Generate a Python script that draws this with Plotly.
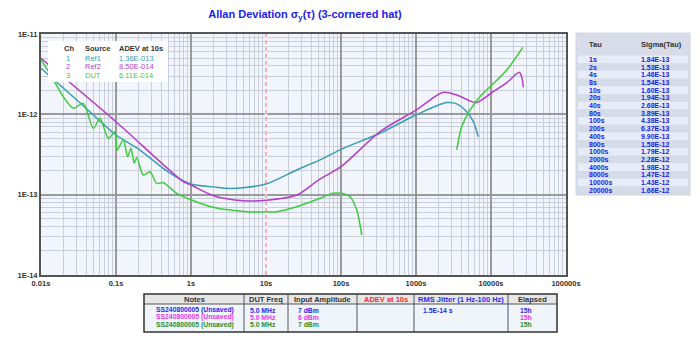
import plotly.graph_objects as go

# ---------------- data ----------------
REF1_TAU = [0.01, 0.0366, 0.1, 0.2, 0.5, 1, 2, 3, 5, 10, 25.7, 50, 100, 331, 1000, 2570, 3490, 4740, 5810, 6770]
REF1_SIG = [3.74e-12, 1.28e-12, 5.53e-13, 3.70e-13, 1.91e-13, 1.36e-13, 1.25e-13, 1.20e-13, 1.22e-13, 1.36e-13,
            2.03e-13, 2.65e-13, 3.67e-13, 5.81e-13, 9.82e-13, 1.40e-12, 1.35e-12, 1.08e-12, 8.1e-13, 5.27e-13]

REF2_TAU = [0.01, 0.1, 0.8, 1, 2, 5, 10, 25.7, 50, 100, 331, 1000, 2310, 3490, 5530, 6450, 10000, 16200, 23800, 25600, 27000]
REF2_SIG = [4.98e-12, 8.09e-13, 1.44e-13, 1.32e-13, 9.7e-14, 8.4e-14, 8.5e-14, 9.9e-14, 1.52e-13, 2.23e-13,
            6.08e-13, 1.13e-12, 1.88e-12, 1.74e-12, 1.44e-12, 1.40e-12, 1.83e-12, 2.48e-12, 3.33e-12, 2.94e-12, 2.17e-12]

DUT_TAU = [0.01, 0.0139, 0.0198, 0.0270, 0.0366, 0.0498, 0.0612, 0.0789, 0.0970, 0.104, 0.125, 0.143, 0.158,
           0.175, 0.189, 0.231, 0.284, 0.349, 0.427, 0.645, 1.02, 1.97, 5.53, 10, 13.9, 25.7, 52.5, 78.9, 102,
           132, 162, 189, None, 3490, 4070, 5250, 7130, 10300, 16200, 26500]
DUT_SIG = [4.8e-12, 2.94e-12, 1.66e-12, 1.19e-12, 1.37e-12, 6.70e-13, 8.92e-13, 5.03e-13, 6.08e-13, 3.60e-13,
           4.79e-13, 2.97e-13, 3.78e-13, 2.46e-13, 2.9e-13, 1.76e-13, 1.93e-13, 1.38e-13, 1.41e-13, 1.04e-13,
           8.58e-14, 6.97e-14, 6.14e-14, 6.11e-14, 6.14e-14, 7.08e-14, 9.01e-14, 1.04e-13, 1.04e-13, 9.43e-14,
           6.44e-14, 3.15e-14, None, 3.60e-13, 7.02e-13, 1.13e-12, 1.66e-12, 2.32e-12, 3.56e-12, 6.83e-12]

MARKER_TAU = 10

X_TICKS = [0.01, 0.1, 1, 10, 100, 1000, 10000, 100000]
X_TICK_TEXT = ["0.01s", "0.1s", "1s", "10s", "100s", "1000s", "10000s", "100000s"]
Y_TICKS = [1e-14, 1e-13, 1e-12, 1e-11]
Y_TICK_TEXT = ["1E-14", "1E-13", "1E-12", "1E-11"]

LEG_CH = ["1", "2", "3"]
LEG_SRC = ["Ref1", "Ref2", "DUT"]
LEG_ADEV = ["1.36E-013", "8.50E-014", "6.11E-014"]

TAB_TAU = ["1s", "2s", "4s", "8s", "10s", "20s", "40s", "80s", "100s", "200s", "400s", "800s",
           "1000s", "2000s", "4000s", "8000s", "10000s", "20000s"]
TAB_SIG = ["1.84E-13", "1.53E-13", "1.46E-13", "1.54E-13", "1.60E-13", "1.94E-13", "2.68E-13", "3.89E-13",
           "4.38E-13", "6.37E-13", "9.90E-13", "1.58E-12", "1.79E-12", "2.28E-12", "1.98E-12", "1.47E-12",
           "1.43E-12", "1.66E-12"]

BT_HEAD = ["Notes", "DUT Freq", "Input Amplitude", "ADEV at 10s", "RMS Jitter (1 Hz-100 Hz)", "Elapsed"]
BT_ROWS = [
    ["SS240800005 (Unsaved)", "5.0 MHz", "7 dBm", "", "1.5E-14 s", "15h"],
    ["SS240800005 (Unsaved)", "5.0 MHz", "6 dBm", "", "", "15h"],
    ["SS240800005 (Unsaved)", "5.0 MHz", "7 dBm", "", "", "15h"],
]

# ---------------- style ----------------
C_TEAL = "#3a9cb6"
C_MAG = "#b43ec6"
C_GRN = "#3ccc3c"
SERIES_COLORS = [C_TEAL, C_MAG, C_GRN]
ROW_COLORS = ["#2a2ae8", "#e836e8", "#2a8c2a"]
FONT = "Liberation Sans"
PLOT_BG = "#f2f5fb"

W, H = 700, 351
PL, PR, PT, PB = 41, 566, 34, 275  # plot area in pixels


def px(x):
    return (x - PL) / (PR - PL)


def py(y):
    return (PB - y) / (PB - PT)


fig = go.Figure()

# marker line at 10 s (background strip hides the grid line, then red dashes)
fig.add_trace(go.Scatter(x=[MARKER_TAU, MARKER_TAU], y=[Y_TICKS[0], Y_TICKS[-1]], mode="lines",
                         line=dict(color=PLOT_BG, width=2.5), hoverinfo="skip"))
fig.add_trace(go.Scatter(x=[MARKER_TAU, MARKER_TAU], y=[Y_TICKS[0], Y_TICKS[-1]], mode="lines",
                         line=dict(color="#ff6a6a", width=1, dash="4px,3px"), hoverinfo="skip"))
fig.add_trace(go.Scatter(x=REF1_TAU, y=REF1_SIG, mode="lines", line=dict(color=C_TEAL, width=1.5, shape="spline", smoothing=0.8), hoverinfo="skip"))
fig.add_trace(go.Scatter(x=REF2_TAU, y=REF2_SIG, mode="lines", line=dict(color=C_MAG, width=1.5, shape="spline", smoothing=0.8), hoverinfo="skip"))
fig.add_trace(go.Scatter(x=DUT_TAU, y=DUT_SIG, mode="lines", connectgaps=False, line=dict(color=C_GRN, width=1.5, shape="spline", smoothing=0.8), hoverinfo="skip"))

shapes = []
ann = []

# in-plot legend box
shapes.append(dict(type="rect", xref="paper", yref="paper", x0=px(48), x1=px(168), y0=py(82), y1=py(41),
                   fillcolor="white", line=dict(width=0), layer="above"))
hdr_font = dict(family=FONT, size=7.5, color="#333333", weight="bold")
for txt, x in [("Ch", 62), ("Source", 83), ("ADEV at 10s", 117)]:
    ann.append(dict(x=px(x), y=py(48.5), text=txt, font=hdr_font))
for i in range(3):
    yy = py(58 + 8.6 * i)
    f = dict(family=FONT, size=7.5, color=SERIES_COLORS[i])
    ann.append(dict(x=px(64), y=yy, text=LEG_CH[i], font=f))
    ann.append(dict(x=px(83), y=yy, text=LEG_SRC[i], font=f))
    ann.append(dict(x=px(117), y=yy, text=LEG_ADEV[i], font=f))

# right table
shapes.append(dict(type="rect", xref="paper", yref="paper", x0=px(576), x1=px(690), y0=py(195), y1=py(33),
                   fillcolor="#d8dce8", line=dict(color="#cfd4e0", width=1)))
row_h = 7.7
for i in range(len(TAB_TAU)):
    yc = 59.3 + row_h * i
    shapes.append(dict(type="rect", xref="paper", yref="paper", x0=px(578), x1=px(688),
                       y0=py(yc + row_h / 2), y1=py(yc - row_h / 2),
                       fillcolor="#e8ecf8" if i % 2 == 0 else "#d6dbe8", line=dict(width=0)))
    f = dict(family=FONT, size=7, color="#2020e8", weight="bold")
    ann.append(dict(x=px(587), y=py(yc), text=TAB_TAU[i], font=f))
    ann.append(dict(x=px(639), y=py(yc), text=TAB_SIG[i], font=f))
ann.append(dict(x=px(587), y=py(45), text="Tau", font=dict(family=FONT, size=7.5, color="#333333", weight="bold")))
ann.append(dict(x=px(639), y=py(45), text="Sigma(Tau)", font=dict(family=FONT, size=7.5, color="#333333", weight="bold")))

# bottom table
col_edges = [144, 244, 288, 357, 414, 508, 557]
shapes.append(dict(type="rect", xref="paper", yref="paper", x0=px(144), x1=px(557), y0=py(304), y1=py(294),
                   fillcolor="#e6e6e6", line=dict(width=0)))
shapes.append(dict(type="rect", xref="paper", yref="paper", x0=px(144), x1=px(557), y0=py(332), y1=py(304),
                   fillcolor="#f0f4fb", line=dict(width=0)))
for xe in col_edges[1:-1]:
    shapes.append(dict(type="line", xref="paper", yref="paper", x0=px(xe), x1=px(xe), y0=py(332), y1=py(294),
                       line=dict(color="#555555", width=1)))
shapes.append(dict(type="line", xref="paper", yref="paper", x0=px(144), x1=px(557), y0=py(304), y1=py(304),
                   line=dict(color="#555555", width=1)))
shapes.append(dict(type="rect", xref="paper", yref="paper", x0=px(144), x1=px(557), y0=py(332), y1=py(294),
                   line=dict(color="#333333", width=1.5)))
head_colors = ["#333333", "#333333", "#333333", "#ff2a2a", "#2a2aff", "#333333"]
for j, h in enumerate(BT_HEAD):
    xc = (col_edges[j] + col_edges[j + 1]) / 2
    ann.append(dict(x=px(xc), y=py(299), text=h, xanchor="center",
                    font=dict(family=FONT, size=7.5, color=head_colors[j], weight="bold")))
body_x = [154, 248, 296, 362, 421, 518]
for r, row in enumerate(BT_ROWS):
    for j, cell in enumerate(row):
        if cell:
            ann.append(dict(x=px(body_x[j]), y=py(310 + 7.4 * r), text=cell,
                            font=dict(family=FONT, size=6.8, color=ROW_COLORS[r], weight="bold")))

for a in ann:
    a.setdefault("xanchor", "left")
    a.update(xref="paper", yref="paper", yanchor="middle", showarrow=False)

fig.update_layout(
    width=W, height=H,
    margin=dict(l=PL, r=W - PR, t=PT, b=H - PB),
    paper_bgcolor="white",
    plot_bgcolor=PLOT_BG,
    showlegend=False,
    title=dict(text="Allan Deviation σ<sub>y</sub>(τ) (3-cornered hat)", x=305 / W, xanchor="center",
               y=1 - 14 / H, yanchor="middle", xref="container", yref="container",
               font=dict(family=FONT, size=11, color="#1c1cf0", weight="bold")),
    shapes=shapes,
    annotations=ann,
)
axis_common = dict(
    type="log", showgrid=True, gridcolor="#9a9a9a", gridwidth=1.5,
    minor=dict(dtick="D1", showgrid=True, gridcolor="#c8cfda", gridwidth=1, ticks=""),
    showline=True, linecolor="#555555", linewidth=2, mirror=True, ticks="", zeroline=False,
    tickfont=dict(family=FONT, size=7.5, color="#333333", weight="bold"),
)
fig.update_xaxes(range=[-2, 5], tickvals=X_TICKS, ticktext=X_TICK_TEXT, **axis_common)
fig.update_yaxes(range=[-14, -11], tickvals=Y_TICKS, ticktext=Y_TICK_TEXT, **axis_common)

fig.write_html("out.html")
